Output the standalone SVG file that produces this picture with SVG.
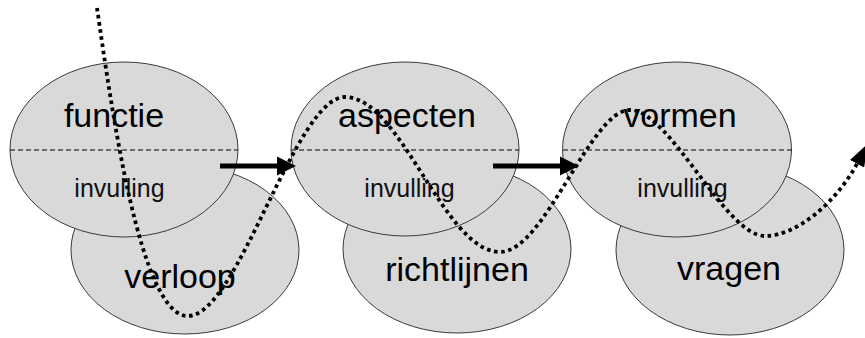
<svg xmlns="http://www.w3.org/2000/svg" width="865" height="338" viewBox="0 0 865 338">
<style>
.ell{fill:#d9d9d9;stroke:#3a3a3a;stroke-width:1}
.mid{stroke:#000;stroke-width:1;stroke-dasharray:5 3;fill:none}
.big{font-family:"Liberation Sans",Arial,sans-serif;font-size:34px;fill:#000;text-anchor:middle}
.small{font-family:"Liberation Sans",Arial,sans-serif;font-size:25px;fill:#111;text-anchor:middle}
.arrow{stroke:#000;stroke-width:5;fill:none;marker-end:url(#head)}
.wave{stroke:#000;stroke-width:3.8;stroke-dasharray:3.6 3.6;fill:none;marker-end:url(#whead)}
</style>
<defs>
<marker id="head" markerUnits="userSpaceOnUse" markerWidth="20" markerHeight="20" refX="1" refY="10" orient="auto">
<path d="M0,0.5 L19,10 L0,19.5 z" fill="#000"/>
</marker>
<marker id="whead" markerUnits="userSpaceOnUse" markerWidth="24" markerHeight="16" refX="2" refY="8" orient="auto">
<path d="M0,0 L23,8 L0,16 z" fill="#000"/>
</marker>
</defs>
<g id="verloop">
<ellipse class="ell" cx="185" cy="250" rx="114" ry="84"/>
<text class="big" x="180" y="288">verloop</text>
</g>
<g id="richtlijnen">
<ellipse class="ell" cx="457" cy="249" rx="114" ry="84"/>
<text class="big" x="457" y="281">richtlijnen</text>
</g>
<g id="vragen">
<ellipse class="ell" cx="730" cy="250" rx="114" ry="85"/>
<text class="big" x="729" y="280">vragen</text>
</g>
<g id="functie">
<ellipse class="ell" cx="124" cy="149.5" rx="114" ry="87.5"/>
<line class="mid" x1="10" y1="150" x2="238" y2="150"/>
<text class="big" x="114" y="127">functie</text>
<text class="small" x="119.5" y="197">invulling</text>
</g>
<g id="aspecten">
<ellipse class="ell" cx="405" cy="149" rx="114" ry="87"/>
<line class="mid" x1="291" y1="150" x2="519" y2="150"/>
<text class="big" x="407" y="127">aspecten</text>
<text class="small" x="409.5" y="197">invulling</text>
</g>
<g id="vormen">
<ellipse class="ell" cx="677" cy="149.5" rx="114.5" ry="87.5"/>
<line class="mid" x1="563" y1="150" x2="792" y2="150"/>
<text class="big" x="680" y="127">vormen</text>
<text class="small" x="682.5" y="197">invulling</text>
</g>
<g id="connectors">
<line class="arrow" x1="220" y1="166" x2="278" y2="166"/>
<line class="arrow" x1="493" y1="166" x2="561" y2="166"/>
<path class="wave" d="M97,8 C112,110 140,316 188,316 C238,316 295,97 345,97 C401,97 444,252 500,252 C545,252 590,110 630,110 C670,110 725,236 765,236 C795,236 835,205 858,162"/>
</g>
</svg>
